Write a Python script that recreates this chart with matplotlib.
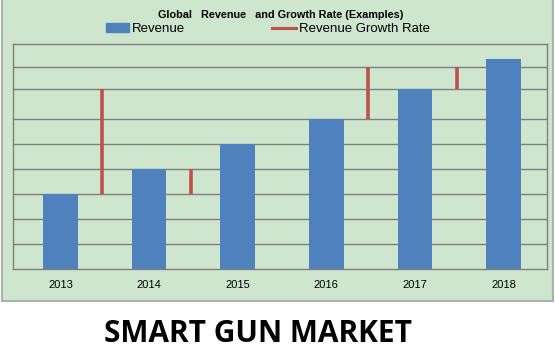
import numpy as np
import matplotlib
matplotlib.use('Agg')
import matplotlib.pyplot as plt
from matplotlib.patches import Rectangle
from matplotlib.lines import Line2D

years = ['2013', '2014', '2015', '2016', '2017', '2018']
revenue = [3.0, 4.0, 5.0, 6.0, 7.2, 8.4]

# growth rate segments drawn between years (low, high)
growth_pos = [0.47, 1.47, 3.47, 4.47]
growth_low = [3.0, 3.0, 6.0, 7.2]
growth_high = [7.2, 4.0, 8.1, 8.1]

grid_levels = [1, 2, 3, 4, 5, 6, 7.2, 8.1]

bg = '#cde6cd'
blue = '#4f81bd'
red = '#c0504d'
gray = '#7f7f7f'

plt.rcParams['font.family'] = ['Liberation Sans', 'DejaVu Sans']

fig = plt.figure(figsize=(5.55, 3.53), dpi=100)
fig.patch.set_facecolor('white')
fig.patches.append(Rectangle((0.004, 52/353.), 0.993, 1 - 52/353. + 0.01,
                             transform=fig.transFigure, facecolor=bg,
                             edgecolor='#a9b3a9', linewidth=1.5, zorder=-1))

ax = fig.add_axes([13/555., 84/353., 534/555., 225/353.])
ax.set_zorder(1)
ax.set_facecolor(bg)
x = np.arange(len(years))
ax.bar(x, revenue, width=0.39, color=blue, zorder=2)
for p, lo, hi in zip(growth_pos, growth_low, growth_high):
    ax.plot([p, p], [lo, hi], color=red, linewidth=2.6, zorder=3, solid_capstyle='butt')
for g in grid_levels:
    ax.axhline(g, color=gray, linewidth=1.0, zorder=1)

ax.set_xlim(-0.536, 5.49)
ax.set_ylim(0, 9)
ax.set_yticks([])
ax.set_xticks(x)
ax.set_xticklabels(years, fontsize=8)
ax.tick_params(axis='x', length=0, pad=8)
for s in ax.spines.values():
    s.set_color(gray)
    s.set_linewidth(1.0)

fig.text(0.505, 1 - 15/353., 'Global   Revenue   and Growth Rate (Examples)',
         ha='center', va='center', fontsize=7.8, fontweight='bold',
         family=['Liberation Sans Narrow', 'Liberation Sans'])

leg_handles = [Rectangle((0, 0), 1, 1, color=blue),
               Line2D([0], [0], color=red, linewidth=2.2)]
fig.legend(leg_handles, ['Revenue', 'Revenue Growth Rate'], loc='center',
           bbox_to_anchor=(0.482, 1 - 29/353.), ncol=2, frameon=False,
           handlelength=1.8, handletextpad=0.2, columnspacing=6.6,
           borderpad=0, handleheight=0.6,
           prop={'family': ['Liberation Sans Narrow', 'Liberation Sans'], 'size': 9.5})

fig.text(0.464, 1 - 334/353., 'SMART GUN MARKET', ha='center', va='center',
         fontsize=21.5, fontweight='bold', family=['Open Sans', 'DejaVu Sans'])

fig.savefig('out.png', dpi=100, facecolor='white')
